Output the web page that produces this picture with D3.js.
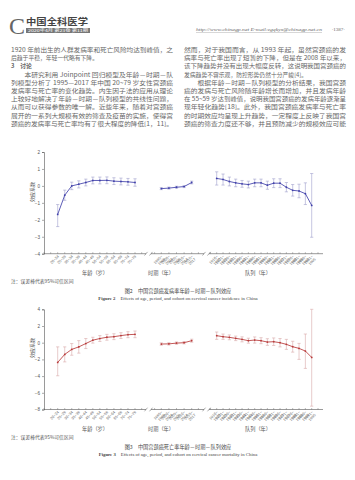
<!DOCTYPE html>
<html><head><meta charset="utf-8">
<script src="https://cdn.jsdelivr.net/npm/d3@7"></script>
<style>
html,body{margin:0;padding:0;background:#fff;}
svg{display:block;font-family:"Noto Sans CJK SC","Noto Sans",sans-serif;}
</style></head>
<body><svg id="c" width="355" height="480"></svg>
<script>
// ---------- data ----------
const ageLabels = ["20~24","25~29","30~34","35~39","40~44","45~49","50~54","55~59","60~64","65~69","70~74","75~79"];
const periodLabels = [["1995~","1999"],["2000~","2004"],["2005~","2009"],["2010~","2014"],["2015~","2017"]];
const cohortLabels = [["1916~","1920"],["1921~","1925"],["1926~","1930"],["1931~","1935"],["1936~","1940"],["1941~","1945"],["1946~","1950"],["1951~","1955"],["1956~","1960"],["1961~","1965"],["1966~","1970"],["1971~","1975"],["1976~","1980"],["1981~","1985"],["1986~","1990"],["1991~","1995"]];

// Figure 2 – incidence
const incAge   = [-1.68,-0.55,0.00,0.10,0.20,0.32,0.32,0.33,0.28,0.26,0.24,0.20];
const incAgeLo = [-2.40,-0.85,-0.22,-0.12,0.00,0.12,0.12,0.13,0.08,0.06,0.04,-0.02];
const incAgeHi = [-1.10,-0.25,0.22,0.30,0.40,0.52,0.52,0.53,0.48,0.46,0.44,0.42];
const incPer   = [-0.16,-0.13,-0.08,-0.04,0.20];
const incPerLo = [-0.22,-0.19,-0.14,-0.10,0.12];
const incPerHi = [-0.10,-0.07,-0.02,0.02,0.28];
const incCoh   = [0.44,0.38,0.26,0.18,0.12,0.08,0.18,0.18,0.04,0.16,0.16,-0.08,-0.26,-0.30,-0.46,-1.15];
const incCohLo = [0.05,0.05,0.00,-0.05,-0.08,-0.12,-0.05,-0.05,-0.20,-0.10,-0.10,-0.35,-0.60,-0.70,-1.10,-3.03];
const incCohHi = [0.83,0.70,0.52,0.40,0.32,0.28,0.40,0.40,0.28,0.42,0.42,0.20,0.08,0.10,0.18,0.73];

// Figure 3 – mortality
const morAge   = [-2.36,-1.40,-0.80,-0.50,-0.10,0.30,0.50,0.65,0.72,0.85,0.96,1.00];
const morAgeLo = [-3.96,-2.30,-1.50,-1.25,-0.70,-0.05,0.15,0.30,0.37,0.50,0.60,0.60];
const morAgeHi = [-0.50,-0.50,-0.10,0.25,0.50,0.65,0.85,1.00,1.07,1.20,1.32,1.40];
const morPer   = [-0.16,-0.14,-0.05,0.00,0.24];
const morPerLo = [-0.30,-0.28,-0.19,-0.14,0.06];
const morPerHi = [-0.02,0.00,0.09,0.14,0.42];
const morCoh   = [0.84,0.72,0.64,0.52,0.40,0.24,0.32,0.24,0.08,0.12,0.00,-0.20,-0.48,-0.68,-1.00,-1.76];
const morCohLo = [0.40,0.40,0.35,0.25,0.10,-0.06,-0.05,-0.12,-0.32,-0.33,-0.50,-0.80,-1.13,-2.00,-3.08,-7.60];
const morCohHi = [1.28,1.04,0.93,0.79,0.70,0.54,0.69,0.60,0.48,0.57,0.50,0.40,0.17,-0.08,1.04,4.00];

const incTicks = [2,1,0,-1,-2,-3,-4];
const morTicks = [4,2,0,-2,-4,-6,-8];

const leftText = [
 "1920 年前出生的人群发病率和死亡风险均达到峰值，之",
 "后趋于平稳，年轻一代略有下降。",
 "3　讨论",
 "　　本研究利用 Joinpoint 回归模型及年龄－时期－队",
 "列模型分析了 1995—2017 年中国 20~79 岁女性宫颈癌",
 "发病率与死亡率的变化趋势。内生因子法的应用从理论",
 "上较好地解决了年龄－时期－队列模型的共线性问题，",
 "从而可以获得参数的唯一解。近些年来，随着对宫颈癌",
 "展开的一系列大规模有效的筛查及疫苗的实施，使得宫",
 "颈癌的发病率与死亡率均有了很大程度的降低[1，11]。"
];
const rightText = [
 "然而，对于我国而言，从 1993 年起，虽然宫颈癌的发",
 "病率与死亡率出现了短暂的下降，但是在 2008 年以来，",
 "该下降趋势并没有出现大幅度反转，这说明我国宫颈癌的",
 "发病趋势不容乐观，防控形势仍然十分严峻[4]。",
 "　　根据年龄－时期－队列模型的分析结果，我国宫颈",
 "癌的发病与死亡风险随年龄增长而增加，并且发病年龄",
 "在 55~59 岁达到峰值，说明我国宫颈癌的发病年龄逐渐呈",
 "现年轻化趋势[18]。此外，我国宫颈癌发病率与死亡率",
 "的时期效应均呈现上升趋势，一定程度上反映了我国宫",
 "颈癌的筛查力度还不够，并且预防减少的规模效应可能"
];
const leftFull  = [true,false,false,true,true,true,true,true,true,true];
const rightFull = [true,true,true,false,true,true,true,true,true,true];

// ---------- drawing ----------
const svg = d3.select("#c");
const txtCol = "#666";

// header
svg.append("text").attr("x",9).attr("y",34).attr("font-family","Liberation Serif,serif")
  .attr("font-size",24).attr("fill","#666").text("C");
svg.append("text").attr("x",26).attr("y",24.5).attr("font-size",8.6).attr("font-weight","bold")
  .attr("fill","#444").attr("textLength",62).attr("lengthAdjust","spacingAndGlyphs").text("中国全科医学");
svg.append("rect").attr("x",26).attr("y",28).attr("width",64).attr("height",5).attr("fill","#777");
svg.append("text").attr("x",28).attr("y",32).attr("font-size",4).attr("fill","#fff")
  .attr("textLength",60).attr("lengthAdjust","spacingAndGlyphs").text("2020年4月 第23卷 第11期");
svg.append("text").attr("x",196).attr("y",31).attr("font-size",4.6).attr("fill","#666")
  .attr("font-family","Liberation Serif,serif").attr("font-style","italic")
  .attr("textLength",126).attr("lengthAdjust","spacingAndGlyphs")
  .text("http://www.chinagp.net  E-mail:zgqkyx@chinagp.net.cn");
svg.append("line").attr("x1",196).attr("x2",322).attr("y1",32.5).attr("y2",32.5).attr("stroke","#999").attr("stroke-width",0.4);
svg.append("text").attr("x",345).attr("y",31).attr("font-size",5).attr("fill","#666").attr("text-anchor","end")
  .attr("font-family","Liberation Serif,serif").text("·1387·");

// body text
function col(lines, full, x0, w){
  lines.forEach((t,i)=>{
    const el = svg.append("text").attr("x",x0).attr("y",52+i*8.2).attr("font-size",5.8)
      .attr("fill",txtCol).text(t);
    if(full[i]) el.attr("textLength",w).attr("lengthAdjust","spacingAndGlyphs");
    if(t.startsWith("3　")) el.attr("font-weight","bold");
  });
}
col(leftText,leftFull,11,162);
col(rightText,rightFull,184,162);

function panel(cfg){
  const g = svg.append("g");
  const y = d3.scaleLinear().domain(cfg.domain).range(cfg.yRange);
  const axisY = cfg.yRange[0];
  const xA = d3.scalePoint().domain(d3.range(ageLabels.length)).range([57.7,135]);
  const xP = d3.scalePoint().domain(d3.range(periodLabels.length)).range([161.3,191.7]);
  const xC = d3.scalePoint().domain(d3.range(cohortLabels.length)).range([216.7,311.7]);

  // y axis
  const ya = g.append("g").attr("transform","translate(44,0)")
    .call(d3.axisLeft(y).tickValues(cfg.ticks).tickSize(2).tickPadding(2).tickFormat(d3.format("d")));
  ya.select(".domain").attr("stroke","#555").attr("stroke-width",0.6);
  ya.selectAll(".tick line").attr("stroke","#555").attr("stroke-width",0.5);
  ya.selectAll(".tick text").attr("font-size",4.6).attr("fill","#555").attr("font-family","Liberation Sans,sans-serif");
  g.append("text").attr("transform",`translate(34,${cfg.titleY}) rotate(-90)`).attr("text-anchor","middle")
    .attr("font-size",5).attr("fill","#555").text("效应系数");

  // x axis segments
  const segs = [[44,146],[151,204],[209,323]];
  segs.forEach(s=>g.append("line").attr("x1",s[0]).attr("x2",s[1]).attr("y1",axisY).attr("y2",axisY)
      .attr("stroke","#555").attr("stroke-width",0.6));
  [[144.5,147.5],[149.5,152.5],[202.5,205.5],[207.5,210.5]].forEach(b=>
    g.append("line").attr("x1",b[0]).attr("x2",b[1]).attr("y1",axisY+1.8).attr("y2",axisY-1.8)
      .attr("stroke","#555").attr("stroke-width",0.5));
  const extraTicks = [44,50.7,141.7,154.6,198.4,210.4,318.0];
  extraTicks.forEach(t=>g.append("line").attr("x1",t).attr("x2",t).attr("y1",axisY).attr("y2",axisY-1.5)
      .attr("stroke","#555").attr("stroke-width",0.4));

  function group(xs, labels, vals, lo, hi, twoLine){
    const idx = d3.range(vals.length);
    idx.forEach(i=>g.append("line").attr("x1",xs(i)).attr("x2",xs(i)).attr("y1",axisY).attr("y2",axisY-1.5)
      .attr("stroke","#555").attr("stroke-width",0.4));
    idx.forEach(i=>{
      const t = g.append("text").attr("transform",`translate(${xs(i)+1.5},${axisY+3}) rotate(-45)`)
        .attr("text-anchor","end").attr("font-size",3.8).attr("fill","#666")
        .attr("font-family","Liberation Sans,sans-serif");
      if(twoLine){
        t.append("tspan").attr("x",0).attr("dy",0).text(labels[i][0]);
        t.append("tspan").attr("x",0).attr("dy",3.8).text(labels[i][1]);
      } else t.text(labels[i]);
    });
    idx.forEach(i=>{
      const x = xs(i);
      g.append("line").attr("x1",x).attr("x2",x).attr("y1",y(lo[i])).attr("y2",y(hi[i]))
        .attr("stroke",cfg.errCol).attr("stroke-width",0.6);
      [lo[i],hi[i]].forEach(v=>g.append("line").attr("x1",x-1.6).attr("x2",x+1.6).attr("y1",y(v)).attr("y2",y(v))
        .attr("stroke",cfg.errCol).attr("stroke-width",0.6));
    });
    g.append("path").datum(idx).attr("fill","none").attr("stroke",cfg.lineCol).attr("stroke-width",0.85)
      .attr("d",d3.line().x(i=>xs(i)).y(i=>y(vals[i])));
    idx.forEach(i=>g.append("circle").attr("cx",xs(i)).attr("cy",y(vals[i])).attr("r",0.9).attr("fill",cfg.lineCol));
  }
  group(xA, ageLabels, cfg.age, cfg.ageLo, cfg.ageHi, false);
  group(xP, periodLabels, cfg.per, cfg.perLo, cfg.perHi, true);
  group(xC, cohortLabels, cfg.coh, cfg.cohLo, cfg.cohHi, true);

  const ty = axisY + 21;
  [["年龄（岁）",95],["时期（年）",161],["队列（年）",258]].forEach(d=>
    g.append("text").attr("x",d[1]).attr("y",ty).attr("text-anchor","middle").attr("font-size",5.2)
      .attr("fill","#555").text(d[0]));
  g.append("text").attr("x",11).attr("y",ty+8).attr("font-size",4.8).attr("fill","#555").text("注：误差棒代表95%可信区间");
  g.append("text").attr("x",178).attr("y",ty+18).attr("text-anchor","middle").attr("font-size",5.2)
    .attr("fill","#444").text(cfg.cap);
  const en = g.append("text").attr("x",178).attr("y",ty+25.5).attr("text-anchor","middle").attr("font-size",4.8)
    .attr("fill","#444").attr("font-family","Liberation Serif,serif");
  en.append("tspan").attr("font-weight","bold").text(cfg.capEnB);
  en.append("tspan").text(cfg.capEn);
}

panel({domain:[-4,2], yRange:[253.7,152], ticks:incTicks, titleY:192,
  age:incAge, ageLo:incAgeLo, ageHi:incAgeHi, per:incPer, perLo:incPerLo, perHi:incPerHi,
  coh:incCoh, cohLo:incCohLo, cohHi:incCohHi, lineCol:"#4040aa", errCol:"#a0a0cc",
  cap:"图2　中国宫颈癌发病率年龄－时期－队列效应", capEnB:"Figure 2　",
  capEn:"Effects of age, period, and cohort on cervical cancer incidence in China"});

panel({domain:[-8,4], yRange:[409.5,309.3], ticks:morTicks, titleY:348,
  age:morAge, ageLo:morAgeLo, ageHi:morAgeHi, per:morPer, perLo:morPerLo, perHi:morPerHi,
  coh:morCoh, cohLo:morCohLo, cohHi:morCohHi, lineCol:"#b83a3a", errCol:"#d8a8a8",
  cap:"图3　中国宫颈癌死亡率年龄－时期－队列效应", capEnB:"Figure 3　",
  capEn:"Effects of age, period, and cohort on cervical cancer mortality in China"});
</script></body></html>
